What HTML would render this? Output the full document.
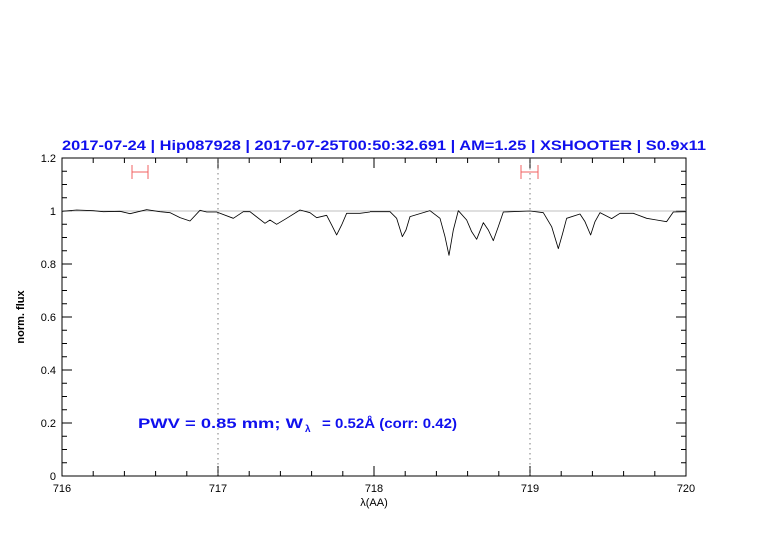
<!DOCTYPE html>
<html><head><meta charset="utf-8"><style>html,body{margin:0;padding:0;background:#fff;}svg{display:block}</style></head>
<body>
<svg width="782" height="542" viewBox="0 0 782 542" xmlns="http://www.w3.org/2000/svg" font-family="Liberation Sans, sans-serif">
<defs><clipPath id="c"><rect x="62" y="158" width="624" height="318"/></clipPath></defs>
<text x="62" y="150" font-size="14" font-weight="bold" fill="#1010ee" textLength="644" lengthAdjust="spacingAndGlyphs">2017-07-24 | Hip087928 | 2017-07-25T00:50:32.691 | AM=1.25 | XSHOOTER | S0.9x11</text>
<rect x="62" y="158" width="624" height="318" fill="none" stroke="#000" stroke-width="1"/>
<g stroke="#000" stroke-width="1">
<path d="M93.2 476v-5M124.4 476v-5M155.6 476v-5M186.8 476v-5M249.2 476v-5M280.4 476v-5M311.6 476v-5M342.8 476v-5M405.2 476v-5M436.4 476v-5M467.6 476v-5M498.8 476v-5M561.2 476v-5M592.4 476v-5M623.6 476v-5M654.8 476v-5
M218 476v-10M374 476v-10M530 476v-10
M93.2 158v5M124.4 158v5M155.6 158v5M186.8 158v5M249.2 158v5M280.4 158v5M311.6 158v5M342.8 158v5M405.2 158v5M436.4 158v5M467.6 158v5M498.8 158v5M561.2 158v5M592.4 158v5M623.6 158v5M654.8 158v5
M218 158v10M374 158v10M530 158v10"/>
</g>
<g stroke="#000" stroke-width="1">
<path d="M62 462.75h5M62 449.5h5M62 436.25h5M62 409.75h5M62 396.5h5M62 383.25h5M62 356.75h5M62 343.5h5M62 330.25h5M62 303.75h5M62 290.5h5M62 277.25h5M62 250.75h5M62 237.5h5M62 224.25h5M62 197.75h5M62 184.5h5M62 171.25h5
M62 423h10M62 370h10M62 317h10M62 264h10M62 211h10
M686 462.75h-5M686 449.5h-5M686 436.25h-5M686 409.75h-5M686 396.5h-5M686 383.25h-5M686 356.75h-5M686 343.5h-5M686 330.25h-5M686 303.75h-5M686 290.5h-5M686 277.25h-5M686 250.75h-5M686 237.5h-5M686 224.25h-5M686 197.75h-5M686 184.5h-5M686 171.25h-5
M686 423h-10M686 370h-10M686 317h-10M686 264h-10M686 211h-10"/>
</g>
<g stroke="#444" stroke-width="0.7" stroke-dasharray="1.5,3.5">
<line x1="218" y1="158" x2="218" y2="476"/><line x1="530" y1="158" x2="530" y2="476"/>
</g>
<line x1="62" y1="211" x2="686" y2="211" stroke="#aaa" stroke-width="0.8"/>
<g clip-path="url(#c)" fill="none" stroke="#000" stroke-linejoin="round">
<path transform="translate(60,150) scale(0.3333)" stroke-width="2.5" d="M6 184 L50 180 L100 182 L130 185 L180 184 L210 191 L260 179 L300 185 L330 188 L360 203 L390 213 L420 181 L440 186 L470 186 L520 205 L550 185 L570 185 L615 220 L630 210 L650 223 L680 205 L720 180 L750 188 L770 203 L800 196 L815 225 L830 255 L845 225 L860 190 L900 190 L930 186"/>
<path transform="translate(370,150) scale(0.3333)" stroke-width="2.5" d="M0 185 L60 185 L80 205 L97 260 L108 240 L120 200 L180 182 L210 205 L225 260 L237 316 L250 240 L265 182 L290 210 L305 245 L320 268 L340 218 L355 240 L370 272 L385 230 L400 186 L480 183 L520 188 L545 230 L565 296 L578 250 L590 205 L630 192 L645 215 L662 255 L675 215 L690 188 L725 206 L750 190 L790 190 L830 205 L860 210 L890 215 L910 186 L950 185"/>
</g>
<g stroke="#f06060" stroke-width="1" fill="none">
<path d="M132 172h16M132 165v14M148 165v14M521 172h17M521 165v14M538 165v14"/>
</g>
<g font-size="11" fill="#000" text-anchor="end">
<text x="56" y="480">0</text><text x="56" y="427">0.2</text><text x="56" y="374">0.4</text><text x="56" y="321">0.6</text><text x="56" y="268">0.8</text><text x="56" y="215">1</text><text x="56" y="162">1.2</text>
</g>
<g font-size="11" fill="#000" text-anchor="middle">
<text x="62" y="492">716</text><text x="218" y="492">717</text><text x="374" y="492">718</text><text x="530" y="492">719</text><text x="686" y="492">720</text>
<text x="374" y="506">λ(AA)</text>
</g>
<text x="0" y="0" font-size="11" font-weight="bold" text-anchor="middle" transform="translate(24,317) rotate(-90)">norm. flux</text>
<text x="138" y="428" font-size="14" font-weight="bold" fill="#1010ee" textLength="165" lengthAdjust="spacingAndGlyphs">PWV = 0.85 mm; W</text>
<text x="305" y="432" font-size="10" font-weight="bold" fill="#1010ee">λ</text>
<text x="322" y="428" font-size="14" font-weight="bold" fill="#1010ee" textLength="135" lengthAdjust="spacingAndGlyphs">= 0.52Å (corr: 0.42)</text>
</svg>
</body></html>
